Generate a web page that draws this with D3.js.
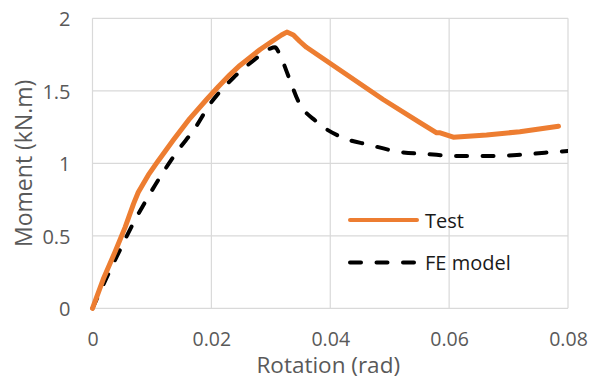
<!DOCTYPE html>
<html>
<head>
<meta charset="utf-8">
<script src="https://cdn.jsdelivr.net/npm/d3@7"></script>
<style>
  html, body { margin: 0; padding: 0; background: #fff; }
  svg { display: block; font-family: "Open Sans", sans-serif; }
</style>
</head>
<body>
<svg id="chart" width="597" height="383"></svg>
<script>
// Moment–rotation response: measured test curve and finite element prediction
const testRotation = [0, 0.0018, 0.0038, 0.0055, 0.0069, 0.0077, 0.0094, 0.0111, 0.0136, 0.0164, 0.0192, 0.0212, 0.0231, 0.0248, 0.0265, 0.0282, 0.0298, 0.0318, 0.0327, 0.0338, 0.0349, 0.036, 0.0489, 0.0551, 0.0579, 0.0585, 0.0607, 0.0663, 0.0719, 0.0784];
const testMoment   = [0, 0.20, 0.39, 0.56, 0.72, 0.80, 0.92, 1.02, 1.16, 1.31, 1.44, 1.53, 1.61, 1.675, 1.73, 1.785, 1.83, 1.885, 1.905, 1.885, 1.84, 1.80, 1.44, 1.28, 1.21, 1.21, 1.18, 1.195, 1.218, 1.255];

const feRotation = [0, 0.0027, 0.0046, 0.0069, 0.0091, 0.0116, 0.0144, 0.0172, 0.0198, 0.0237, 0.0271, 0.0298, 0.0307, 0.0316, 0.0332, 0.0346, 0.0377, 0.0419, 0.0467, 0.0514, 0.0565, 0.0613, 0.0663, 0.0714, 0.0761, 0.08];
const feMoment   = [0, 0.24, 0.40, 0.59, 0.75, 0.92, 1.09, 1.24, 1.41, 1.59, 1.71, 1.79, 1.80, 1.74, 1.575, 1.43, 1.287, 1.18, 1.126, 1.08, 1.063, 1.05, 1.05, 1.057, 1.073, 1.085];

const xTicks = [0, 0.02, 0.04, 0.06, 0.08];
const yTicks = [0, 0.5, 1, 1.5, 2];
const seriesNames = ["Test", "FE model"];

const svg = d3.select("#chart");
const plotLeft = 92.5, plotRight = 568, plotTop = 18.3, plotBottom = 308.3;

const x = d3.scaleLinear().domain([0, 0.08]).range([plotLeft, plotRight]);
const y = d3.scaleLinear().domain([0, 2]).range([plotBottom, plotTop]);

const grid = "#d9d9d9", tickColor = "#595959";

// gridlines
svg.append("g").selectAll("line").data(yTicks).join("line")
  .attr("x1", plotLeft).attr("x2", plotRight)
  .attr("y1", d => y(d)).attr("y2", d => y(d))
  .attr("stroke", grid).attr("stroke-width", 1.2);
svg.append("g").selectAll("line").data(xTicks).join("line")
  .attr("y1", plotTop).attr("y2", plotBottom)
  .attr("x1", d => x(d)).attr("x2", d => x(d))
  .attr("stroke", grid).attr("stroke-width", 1.2);

// axes (labels only, lines are the gridlines)
const xAxis = svg.append("g").attr("transform", `translate(0,${plotBottom})`)
  .call(d3.axisBottom(x).tickValues(xTicks).tickSize(0).tickPadding(0).tickFormat(d => String(+d.toFixed(2))));
xAxis.select(".domain").remove();
xAxis.selectAll("text").attr("y", 38.2).attr("dy", 0)
  .attr("fill", tickColor).style("font-size", "19.5px").style("font-family", "Open Sans, sans-serif");

const yAxis = svg.append("g").attr("transform", `translate(${plotLeft},0)`)
  .call(d3.axisLeft(y).tickValues(yTicks).tickSize(0).tickPadding(0).tickFormat(d => String(d)));
yAxis.select(".domain").remove();
yAxis.selectAll("text").attr("x", -22).attr("dy", "0.36em")
  .attr("fill", tickColor).style("font-size", "20px").style("font-family", "Open Sans, sans-serif");

// axis titles
svg.append("text").attr("x", (plotLeft + plotRight) / 2 - 2).attr("y", 373)
  .attr("text-anchor", "middle").attr("fill", tickColor)
  .style("font-size", "22.5px").text("Rotation (rad)");
svg.append("text").attr("transform", `translate(31.5,${(plotTop + plotBottom) / 2}) rotate(-90)`)
  .attr("text-anchor", "middle").attr("fill", tickColor)
  .style("font-size", "23px").text("Moment (kN.m)");

// series
const testData = testRotation.map((r, i) => [r, testMoment[i]]);
const feData = feRotation.map((r, i) => [r, feMoment[i]]);

svg.append("clipPath").attr("id", "plot")
  .append("rect").attr("x", plotLeft - 5).attr("y", 0)
  .attr("width", plotRight - plotLeft + 5).attr("height", plotBottom + 5);

svg.append("path").datum(feData)
  .attr("clip-path", "url(#plot)")
  .attr("d", d3.line().x(d => x(d[0])).y(d => y(d[1])).curve(d3.curveMonotoneX))
  .attr("fill", "none").attr("stroke", "#000").attr("stroke-width", 4)
  .attr("stroke-dasharray", "11 15.5").attr("stroke-linecap", "round");

svg.append("path").datum(testData)
  .attr("d", d3.line().x(d => x(d[0])).y(d => y(d[1])))
  .attr("fill", "none").attr("stroke", "#ed7d31").attr("stroke-width", 5)
  .attr("stroke-linejoin", "round").attr("stroke-linecap", "round");

// legend
const legend = svg.append("g");
const legendItems = [
  { name: seriesNames[0], y: 220, stroke: "#ed7d31", dash: null },
  { name: seriesNames[1], y: 262.5, stroke: "#000", dash: "11 15.5" }
];
legendItems.forEach(it => {
  legend.append("line").attr("x1", 350).attr("x2", 417).attr("y1", it.y).attr("y2", it.y)
    .attr("stroke", it.stroke).attr("stroke-width", 4)
    .attr("stroke-linecap", "round").attr("stroke-dasharray", it.dash);
  legend.append("text").attr("x", 425).attr("y", it.y + 7.5)
    .attr("fill", "#1a1a1a").style("font-size", "20px").text(it.name);
});
</script>
</body>
</html>
